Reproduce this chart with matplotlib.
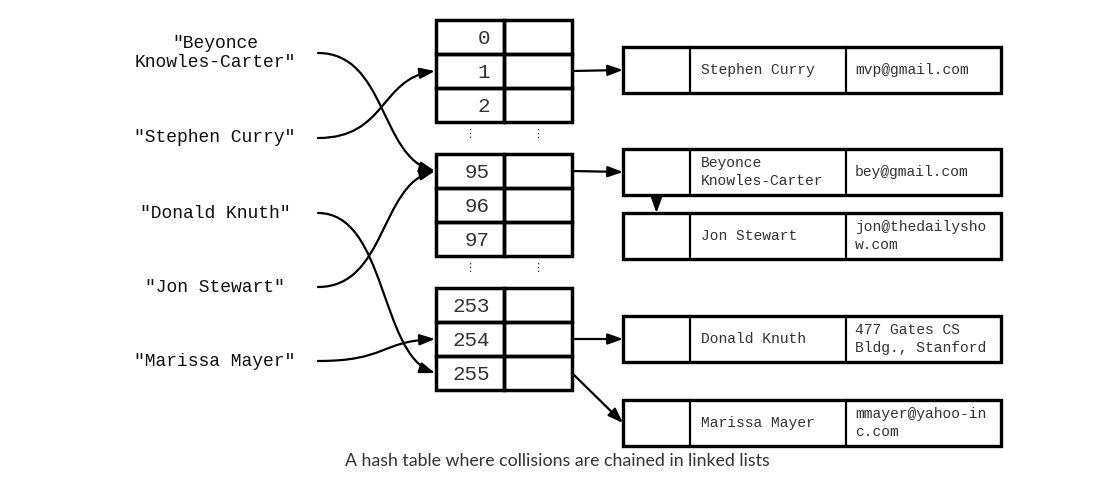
import matplotlib
matplotlib.use("Agg")
import matplotlib.pyplot as plt
from matplotlib.patches import FancyArrowPatch, Rectangle
from matplotlib.path import Path

# keys hashed into the table
keys = ['"Beyonce\nKnowles-Carter"', '"Stephen Curry"', '"Donald Knuth"',
        '"Jon Stewart"', '"Marissa Mayer"']
key_slots = [95, 1, 255, 95, 254]

# visible slots of the table (three blocks, gaps in between)
slot_groups = [[0, 1, 2], [95, 96, 97], [253, 254, 255]]

# chained records: slot, name, email
rec_slots = [1, 95, 95, 254, 255]
rec_names = ["Stephen Curry", "Beyonce\nKnowles-Carter", "Jon Stewart",
             "Donald Knuth", "Marissa Mayer"]
rec_emails = ["mvp@gmail.com", "bey@gmail.com", "jon@thedailysho\nw.com",
              "477 Gates CS\nBldg., Stanford", "mmayer@yahoo-in\nc.com"]

caption = "A hash table where collisions are chained in linked lists"

# layout (pixels)
key_x, key_end = 215, 318
key_y = [53, 138, 213, 287, 361]
tab_x0, tab_x1, tab_x2 = 436, 504, 572
group_top = [20, 154, 288]
row_h = 34
rec_x = [623, 690, 846, 1001]
rec_top = [47, 149, 213, 316, 400]
rec_h = 46
mono = "Liberation Mono"
ink = "#111111"
astyle = "-|>,head_length=0.75,head_width=0.27"

fig = plt.figure(figsize=(10.95, 4.82), dpi=100)
ax = fig.add_axes([0, 0, 1, 1])
ax.set_xlim(0, 1095)
ax.set_ylim(482, 0)
ax.axis("off")

slot_y = {}
for top, group in zip(group_top, slot_groups):
    for i, s in enumerate(group):
        y = top + i * row_h
        slot_y[s] = y + row_h / 2
        for xa, xb in [(tab_x0, tab_x1), (tab_x1, tab_x2)]:
            ax.add_patch(Rectangle((xa, y), xb - xa, row_h, fill=False,
                                   lw=2.5, ec="black", joinstyle="miter"))
        ax.text(tab_x1 - 14, y + row_h / 2 + 1, str(s), ha="right", va="center",
                fontsize=15, family=mono, color="#333333")
# vertical ellipses between blocks
for top in group_top[1:]:
    for xc in [470, 538]:
        ax.text(xc, top - 20, "\u22ee", ha="center", va="center",
                fontsize=8, family="DejaVu Sans", color="#333333")

# keys and curved arrows into the table
for lab, ky, s in zip(keys, key_y, key_slots):
    ax.text(key_x, ky, lab, ha="center", va="center", fontsize=13,
            family=mono, color=ink, linespacing=1.15)
    y1 = slot_y[s]
    x1 = tab_x0 - 1
    verts = [(key_end, ky), (key_end + 68, ky),
             (x1 - 55, y1 - 0.12 * (y1 - ky)), (x1, y1)]
    path = Path(verts, [Path.MOVETO, Path.CURVE4, Path.CURVE4, Path.CURVE4])
    ax.add_patch(FancyArrowPatch(path=path, arrowstyle=astyle,
                                 mutation_scale=12, lw=1.6, color="black"))

# records
first_of_slot = {}
for s, nm, em, top in zip(rec_slots, rec_names, rec_emails, rec_top):
    ax.add_patch(Rectangle((rec_x[0], top), rec_x[3] - rec_x[0], rec_h, fill=False,
                           lw=2.4, ec="black", joinstyle="miter"))
    for xd in rec_x[1:3]:
        ax.plot([xd, xd], [top, top + rec_h], color="black", lw=1.6)
    yc = top + rec_h / 2
    ax.text(rec_x[1] + 11, yc, nm, ha="left", va="center", fontsize=10.5,
            family=mono, color="#333333", linespacing=1.4)
    ax.text(rec_x[2] + 9, yc, em, ha="left", va="center", fontsize=10.5,
            family=mono, color="#333333", linespacing=1.4)
    if s in first_of_slot:
        prev = first_of_slot[s]
        xm = (rec_x[0] + rec_x[1]) / 2
        ax.add_patch(FancyArrowPatch((xm, prev + rec_h), (xm, top), arrowstyle=astyle,
                                     mutation_scale=12, lw=1.6, color="black",
                                     shrinkA=0, shrinkB=0))
    else:
        first_of_slot[s] = top
        ax.add_patch(FancyArrowPatch((tab_x2, slot_y[s]), (rec_x[0], yc),
                                     arrowstyle=astyle, mutation_scale=12, lw=1.6,
                                     color="black", shrinkA=0, shrinkB=0))

ax.text(557, 461, caption, ha="center", va="center", fontsize=12.8,
        family="Lato", color="#333333")

fig.savefig("out.png", dpi=100)
